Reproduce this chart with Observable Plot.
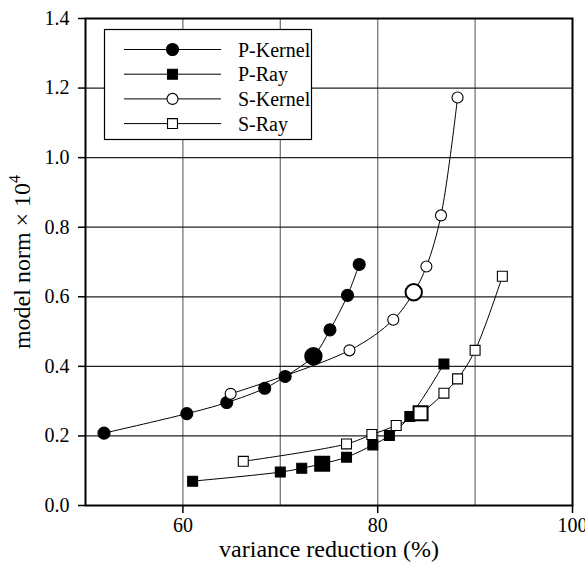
<!DOCTYPE html>
<html><head>
<meta charset="utf-8">
<script src="https://cdn.jsdelivr.net/npm/d3@7"></script>
<script src="https://cdn.jsdelivr.net/npm/@observablehq/plot@0.6"></script>
<style>body{margin:0;background:#fff}</style>
</head><body><div id="chart"></div>
<script>
// Data
const pKernelX = [51.9, 60.4, 64.5, 68.4, 70.5, 73.4, 75.1, 76.9, 78.1];
const pKernelY = [0.208, 0.264, 0.296, 0.337, 0.371, 0.429, 0.505, 0.604, 0.693];
const pKernelBig = 5;
const pRayX = [61.0, 70.0, 72.2, 74.3, 76.8, 79.5, 81.2, 83.3, 86.8];
const pRayY = [0.070, 0.096, 0.107, 0.120, 0.139, 0.174, 0.201, 0.256, 0.407];
const pRayBig = 3;
const sKernelX = [64.9, 77.1, 81.6, 83.7, 85.0, 86.5, 88.2];
const sKernelY = [0.321, 0.446, 0.534, 0.613, 0.687, 0.834, 1.173];
const sKernelBig = 3;
const sRayX = [66.2, 76.8, 79.4, 81.9, 84.4, 86.8, 88.2, 90.0, 92.8];
const sRayY = [0.127, 0.177, 0.204, 0.230, 0.265, 0.323, 0.364, 0.446, 0.659];
const sRayBig = 4;

const seriesNames = ["P-Kernel", "P-Ray", "S-Kernel", "S-Ray"];
const xTicks = [60, 80, 100];
const xGrid = [60, 70, 80, 90];
const yTicks = [0, 0.2, 0.4, 0.6, 0.8, 1.0, 1.2, 1.4];
const xLabel = "variance reduction (%)";
const yLabelMain = "model norm \u00d7 10";
const yLabelSup = "4";
const FONT = "Liberation Serif";

const series = [
  {name: seriesNames[0], xs: pKernelX, ys: pKernelY, big: pKernelBig, symbol: "circle", filled: true},
  {name: seriesNames[1], xs: pRayX, ys: pRayY, big: pRayBig, symbol: "square", filled: true},
  {name: seriesNames[2], xs: sKernelX, ys: sKernelY, big: sKernelBig, symbol: "circle", filled: false},
  {name: seriesNames[3], xs: sRayX, ys: sRayY, big: sRayBig, symbol: "square", filled: false}
];
const rows = s => s.xs.map((x, i) => ({x, y: s.ys[i], big: i === s.big}));

const marks = [
  Plot.gridX(xGrid, {stroke: "#777", strokeOpacity: 1, strokeWidth: 1.3}),
  Plot.gridY(yTicks.slice(1, -1), {stroke: "#222", strokeOpacity: 1, strokeWidth: 1.3}),
  Plot.axisX({ticks: xTicks, tickSize: 8, tickPadding: 4, label: null, fontSize: 20, fontFamily: FONT, strokeWidth: 1.5}),
  Plot.axisY({ticks: yTicks, tickFormat: d => d.toFixed(1), tickSize: 7, tickPadding: 9, label: null, fontSize: 20, fontFamily: FONT, strokeWidth: 1.5}),
  Plot.text([xLabel], {frameAnchor: "bottom", dy: 51, fontSize: 24, fontFamily: FONT})
];
for (const s of series) {
  const data = rows(s);
  marks.push(Plot.line(data, {x: "x", y: "y", stroke: "#000", strokeWidth: 1, curve: "catmull-rom"}));
  const isSq = s.symbol === "square";
  const rSmall = isSq ? 5.6 : (s.filled ? 6 : 5.5);
  const rBig = isSq ? 7.9 : 8.2;
  marks.push(Plot.dot(data, {
    x: "x", y: "y", symbol: s.symbol,
    r: d => d.big ? rBig : rSmall,
    fill: s.filled ? "#000" : "#fff",
    stroke: "#000",
    strokeWidth: d => d.big ? 2 : 1.1
  }));
}
marks.push(Plot.frame({stroke: "#000", strokeWidth: 2}));

const plot = Plot.plot({
  width: 585, height: 567,
  marginLeft: 85, marginRight: 13, marginTop: 18, marginBottom: 62,
  style: {background: "#fff", color: "#000"},
  x: {domain: [50, 100]},
  y: {domain: [0, 1.4]},
  r: {type: "identity"},
  marks
});

const svg = d3.select(plot);
svg.attr("font-family", FONT);
// y-axis label with superscript
const yl = svg.append("text").attr("transform", "translate(30,262) rotate(-90)")
  .attr("text-anchor", "middle").attr("font-size", 24).attr("fill", "#000");
yl.append("tspan").text(yLabelMain);
yl.append("tspan").attr("font-size", 16).attr("dy", "-0.6em").text(yLabelSup);

// Legend inside the plot frame
const lg = svg.append("g").attr("font-size", 20).attr("text-anchor", "start");
lg.append("rect").attr("x", 104.5).attr("y", 29.5).attr("width", 207).attr("height", 110)
  .attr("fill", "#fff").attr("stroke", "#000").attr("stroke-width", 1.2);
series.forEach((s, i) => {
  const cy = 49.5 + i * 24.7;
  lg.append("line").attr("x1", 124).attr("x2", 221).attr("y1", cy).attr("y2", cy).attr("stroke", "#000").attr("stroke-width", 1);
  const isSq = s.symbol === "square";
  const r = isSq ? 5.6 : (s.filled ? 6 : 5.5);
  lg.append("path").attr("transform", `translate(172.5,${cy})`)
    .attr("d", d3.symbol(isSq ? d3.symbolSquare : d3.symbolCircle, Math.PI * r * r)())
    .attr("fill", s.filled ? "#000" : "#fff").attr("stroke", "#000").attr("stroke-width", 1.1);
  lg.append("text").attr("x", 238).attr("y", cy).attr("dy", "0.35em").attr("fill", "#000").text(s.name);
});
svg.selectAll("text, g").attr("font-family", FONT);

document.getElementById("chart").appendChild(plot);
</script>
</body></html>
